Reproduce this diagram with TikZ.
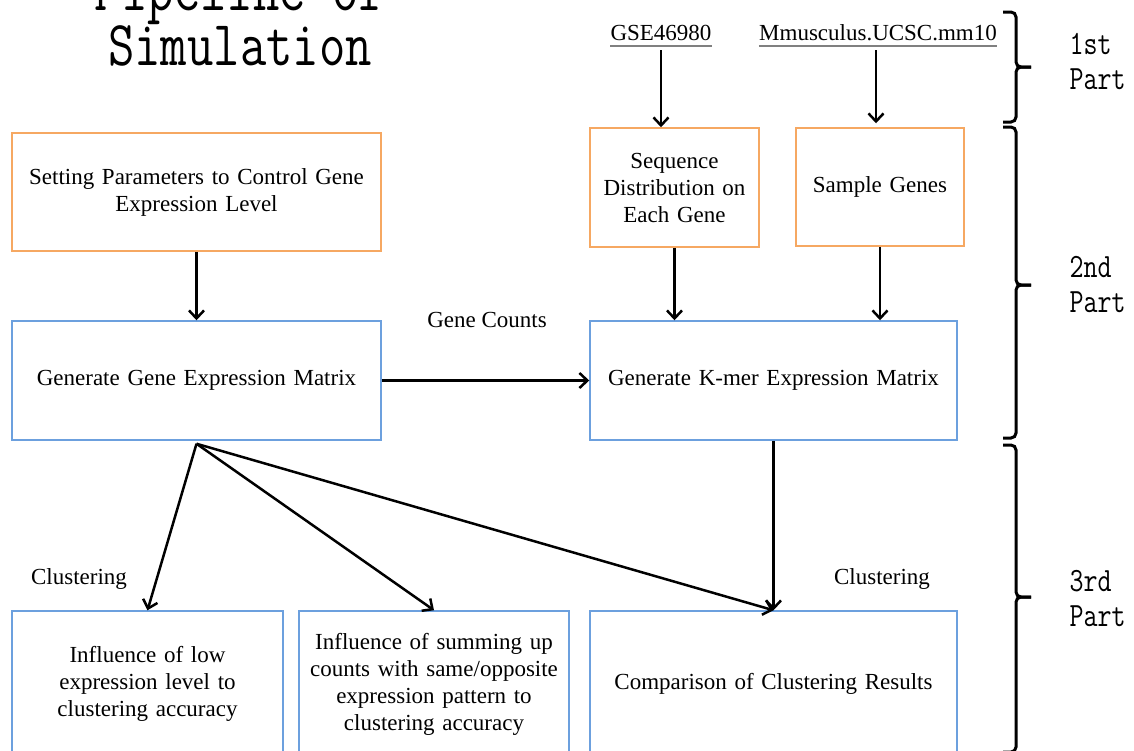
\documentclass[tikz,border=0pt]{standalone}
\usepackage{fontspec}
\setmainfont{Liberation Serif}
\newfontfamily\monofont[FakeStretch=0.8]{Latin Modern Mono}
\usetikzlibrary{arrows.meta}

\definecolor{boxorange}{RGB}{246,168,98}
\definecolor{boxblue}{RGB}{108,160,222}

\tikzset{
    inbox/.style={draw=boxorange, line width=1.5pt, align=center, inner sep=0pt},
    procbox/.style={draw=boxblue, line width=1.5pt, align=center, inner sep=0pt},
    flow/.style={line width=2.5pt, -{Straight Barb[length=8pt,width=15pt]}},
    partbrace/.style={line width=3pt, rounded corners=5pt},
    partlabel/.style={font=\monofont\fontsize{34}{35}\selectfont, anchor=west, align=left},
}

\begin{document}
\begin{tikzpicture}[x=1pt, y=-1pt, every node/.style={font=\fontsize{23}{27}\selectfont}]

    % Frame of the page
    \path[use as bounding box, clip] (0,0) rectangle (1134,750);

    % Title
    \node[font=\monofont\fontsize{64}{55}\selectfont, anchor=base] (title1) at (240,10) {Pipeline of};
    \node[font=\monofont\fontsize{64}{55}\selectfont, anchor=base] (title2) at (240,65) {Simulation};

    % Data sources
    \node[inner sep=0pt, anchor=south] (gse) at (661,41) {GSE46980};
    \node[inner sep=0pt, anchor=south] (mm10) at (878,41) {Mmusculus.UCSC.mm10};
    \draw[gray, line width=1.8pt] ([yshift=-5pt]gse.south west) -- ([yshift=-5pt]gse.south east);
    \draw[gray, line width=1.8pt] ([yshift=-5pt]mm10.south west) -- ([yshift=-5pt]mm10.south east);

    % Input boxes
    \node[inbox, minimum width=369pt, minimum height=118pt, text width=340pt] (setpar) at (196.5,192)
        {Setting Parameters to Control Gene\\Expression Level};
    \node[inbox, minimum width=169pt, minimum height=119pt, text width=160pt] (seqdist) at (674.5,187.5)
        {Sequence\\Distribution on\\Each Gene};
    \node[inbox, minimum width=168pt, minimum height=118pt, text width=160pt] (samplegenes) at (880,187)
        {Sample Genes};

    % Expression matrices
    \node[procbox, minimum width=369pt, minimum height=119pt, text width=360pt] (genemat) at (196.5,380.5)
        {Generate Gene Expression Matrix};
    \node[procbox, minimum width=367pt, minimum height=119pt, text width=360pt] (kmermat) at (773.5,380.5)
        {Generate K-mer Expression Matrix};

    % Results
    \node[procbox, minimum width=271pt, minimum height=146pt, text width=262pt] (lowexpr) at (147.5,684)
        {Influence of low\\expression level to\\clustering accuracy};
    \node[procbox, minimum width=270pt, minimum height=146pt, text width=262pt] (sumcounts) at (434,684)
        {Influence of summing up\\counts with same/opposite\\expression pattern to\\clustering accuracy};
    \node[procbox, minimum width=367pt, minimum height=146pt, text width=360pt] (compare) at (773.5,684)
        {Comparison of Clustering Results};

    % Edge labels
    \node (genecounts) at (487,320) {Gene Counts};
    \node (clusterL) at (79,579) {Clustering};
    \node (clusterR) at (882,579) {Clustering};

    % Arrows of the first and second part
    \draw[flow] ([yshift=-9pt]gse.south) -- (gse.south |- seqdist.north);
    \draw[flow] ([xshift=-2pt,yshift=-9pt]mm10.south) -- ([xshift=-2pt,yshift=4pt]mm10.south |- samplegenes.north);
    \draw[flow] (setpar) -- (genemat);
    \draw[flow] (seqdist.south) -- (seqdist.south |- kmermat.north);
    \draw[flow] (samplegenes.south) -- (samplegenes.south |- kmermat.north);
    \draw[flow] (genemat) -- (kmermat);

    % Arrows of the third part
    \coordinate (fan) at ([yshift=-3pt]genemat.south);
    \foreach \target in {lowexpr, sumcounts, compare} {
        \draw[flow] (fan) -- (\target.north);
    }
    \draw[flow] (kmermat.south) -- (compare.north);

    % Braces for the parts
    \foreach \ya/\ym/\yb in {12/67/122, 127/285/438, 445/597/752} {
        \draw[partbrace] (1003,\ya) -- (1016,\ya) -- (1016,\ym) -- (1031,\ym);
        \draw[partbrace] (1003,\yb) -- (1016,\yb) -- (1016,\ym) -- (1031,\ym);
    }
    \node[partlabel] (part1) at (1066,62) {1st\\Part};
    \node[partlabel] (part2) at (1066,285) {2nd\\Part};
    \node[partlabel] (part3) at (1066,598) {3rd\\Part};

\end{tikzpicture}
\end{document}
